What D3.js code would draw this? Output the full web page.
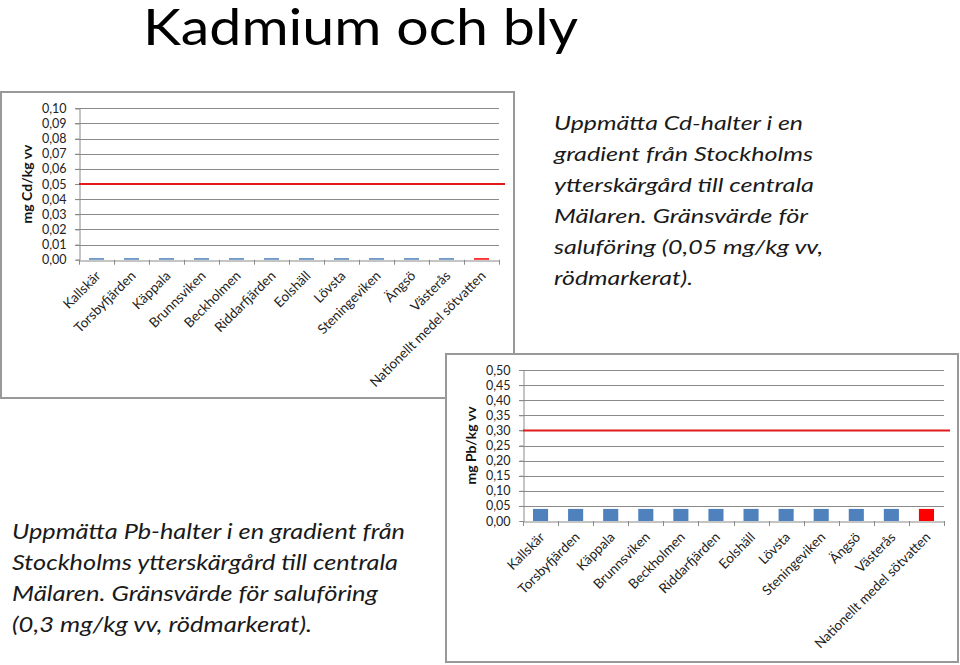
<!DOCTYPE html>
<html>
<head>
<meta charset="utf-8">
<script src="https://cdn.jsdelivr.net/npm/d3@7"></script>
<style>
  html, body { margin: 0; padding: 0; background: #fff; }
  svg { display: block; }
  text { font-family: Lato, "Open Sans", sans-serif; }
</style>
</head>
<body>
<svg id="chart" width="960" height="665"></svg>
<script>
// ---------- DATA ----------
const categories = ["Kallskär", "Torsbyfjärden", "Käppala", "Brunnsviken", "Beckholmen",
  "Riddarfjärden", "Eolshäll", "Lövsta", "Steningeviken", "Ängsö", "Västerås",
  "Nationellt medel sötvatten"];
const cdValues = [0.001, 0.001, 0.001, 0.001, 0.001, 0.001, 0.001, 0.001, 0.001, 0.001, 0.001, 0.001];
const pbValues = [0.04, 0.04, 0.04, 0.04, 0.04, 0.04, 0.04, 0.04, 0.04, 0.04, 0.04, 0.04];
const cdLimit = 0.05;
const pbLimit = 0.30;
const cdTicks = [0, 0.01, 0.02, 0.03, 0.04, 0.05, 0.06, 0.07, 0.08, 0.09, 0.10];
const pbTicks = [0, 0.05, 0.10, 0.15, 0.20, 0.25, 0.30, 0.35, 0.40, 0.45, 0.50];
const title = "Kadmium och bly";
const cdText = ["Uppmätta Cd-halter i en", "gradient från Stockholms", "ytterskärgård till centrala",
  "Mälaren. Gränsvärde för", "saluföring (0,05 mg/kg vv,", "rödmarkerat)."];
const pbText = ["Uppmätta Pb-halter i en gradient från", "Stockholms ytterskärgård till centrala",
  "Mälaren. Gränsvärde för saluföring", "(0,3 mg/kg vv, rödmarkerat)."];

// ---------- DRAW ----------
const svg = d3.select("#chart");
const fmt = v => d3.format(".2f")(v).replace(".", ",");

function drawChart(opts) {
  const g = svg.append("g");
  g.append("rect").attr("x", opts.box[0]).attr("y", opts.box[1])
    .attr("width", opts.box[2]).attr("height", opts.box[3])
    .attr("fill", "#fff").attr("stroke", "#999").attr("stroke-width", 2);

  const x = d3.scaleBand().domain(categories).range([opts.left, opts.right]).paddingInner(0.57).paddingOuter(0.285);
  const xb = d3.scaleBand().domain(categories).range([opts.left, opts.right]);
  const y = d3.scaleLinear().domain([0, opts.ticks[opts.ticks.length - 1]]).range([opts.bottom, opts.top]);

  // gridlines
  g.append("g").selectAll("line").data(opts.ticks.slice(1)).join("line")
    .attr("x1", opts.left - 4).attr("x2", opts.right)
    .attr("y1", d => Math.round(y(d)) + 0.5).attr("y2", d => Math.round(y(d)) + 0.5)
    .attr("stroke", "#8a8a8a").attr("stroke-width", 1);

  // y axis
  const yAxis = g.append("g").attr("transform", `translate(${opts.left + 0.5},0)`)
    .call(d3.axisLeft(y).tickValues(opts.ticks).tickFormat(fmt).tickSize(4).tickPadding(9));
  yAxis.select(".domain").attr("stroke", "#8a8a8a");
  yAxis.selectAll(".tick line").attr("stroke", "#8a8a8a");
  yAxis.selectAll("text").attr("font-size", 12.5).attr("fill", "#222")
    .style("font-family", "Lato, sans-serif");

  // bars
  g.append("g").selectAll("rect").data(opts.values).join("rect")
    .attr("x", (d, i) => x(categories[i]))
    .attr("width", x.bandwidth())
    .attr("y", d => y(d))
    .attr("height", d => y(0) - y(d))
    .attr("fill", (d, i) => i === categories.length - 1 ? "#ff0000" : "#4f81bd");

  // x axis
  const xAxis = g.append("g").attr("transform", `translate(0,${Math.round(opts.bottom) + 0.5})`)
    .call(d3.axisBottom(xb).tickSize(0).tickFormat(""));
  xAxis.select(".domain").attr("stroke", "#8a8a8a");
  xAxis.selectAll(".tick").remove();
  const bounds = categories.map(c => xb(c)).concat([opts.right]);
  g.append("g").selectAll("line").data(bounds).join("line")
    .attr("x1", d => Math.round(d) + 0.5).attr("x2", d => Math.round(d) + 0.5)
    .attr("y1", opts.bottom).attr("y2", opts.bottom + 5)
    .attr("stroke", "#8a8a8a");

  g.append("g").selectAll("text").data(categories).join("text")
    .attr("transform", d => `translate(${xb(d) + xb.bandwidth() / 2 + 5},${opts.bottom + 17}) rotate(-45)`)
    .attr("text-anchor", "end")
    .attr("font-size", 13.5).attr("fill", "#222")
    .text(d => d);

  // limit line
  g.append("line")
    .attr("x1", opts.left).attr("x2", opts.right + 6)
    .attr("y1", y(opts.limit)).attr("y2", y(opts.limit))
    .attr("stroke", "#e21a1a").attr("stroke-width", 2);

  // y label
  g.append("text")
    .attr("transform", `translate(${opts.ylabX},${(opts.top + opts.bottom) / 2}) rotate(-90)`)
    .attr("text-anchor", "middle").attr("font-weight", "bold").attr("font-size", 14)
    .attr("fill", "#111")
    .text(opts.ylabel);
}

drawChart({ box: [1, 92, 513, 306], left: 79, right: 499, top: 108.3, bottom: 259.7,
  ticks: cdTicks, values: cdValues, limit: cdLimit, ylabel: "mg Cd/kg vv", ylabX: 32 });
drawChart({ box: [446, 354, 512, 308], left: 523, right: 944, top: 370, bottom: 521,
  ticks: pbTicks, values: pbValues, limit: pbLimit, ylabel: "mg Pb/kg vv", ylabX: 476 });

// title
svg.append("text").attr("x", 143).attr("y", 45).attr("font-size", 50).attr("fill", "#000")
  .attr("textLength", 435).attr("lengthAdjust", "spacingAndGlyphs").text(title);

// text blocks
const cdW = [249, 259, 260, 254, 269, 139];
svg.append("g").selectAll("text").data(cdText).join("text")
  .attr("x", 554).attr("y", (d, i) => 130 + i * 31)
  .attr("font-size", 19.5).attr("font-style", "italic").attr("fill", "#1a1a1a")
  .attr("textLength", (d, i) => cdW[i]).attr("lengthAdjust", "spacingAndGlyphs")
  .text(d => d);

const pbW = [393, 386, 366, 300];
svg.append("g").selectAll("text").data(pbText).join("text")
  .attr("x", 12).attr("y", (d, i) => 539 + i * 31)
  .attr("font-size", 21.5).attr("font-style", "italic").attr("fill", "#1a1a1a")
  .attr("textLength", (d, i) => pbW[i]).attr("lengthAdjust", "spacingAndGlyphs")
  .text(d => d);
</script>
</body>
</html>
